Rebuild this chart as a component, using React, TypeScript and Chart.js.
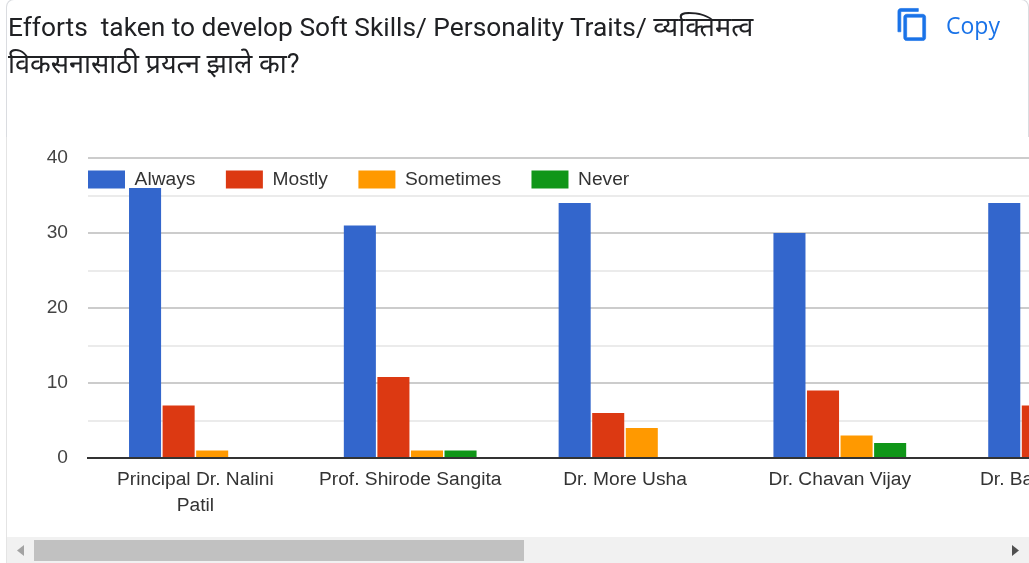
import React, { useEffect, useRef } from "react";
import { Chart, registerables } from "chart.js";

Chart.register(...registerables);

const NBSP = "\u00A0";
const titleLatin = "Efforts  taken to develop Soft Skills/ Personality Traits/ ";
const titleMarathiWord = "व्यक्तिमत्व";
const titleMarathiLine = "विकसनासाठी प्रयत्न झाले का?";
const categories: (string | string[])[] = [
  ["Principal Dr. Nalini", "Patil"],
  "Prof. Shirode Sangita",
  "Dr. More Usha",
  "Dr. Chavan Vijay",
  "Dr. Ba" + NBSP.repeat(18),
];
const always = [36, 31, 34, 30, 34];
const mostly = [7, 10.8, 6, 9, 7];
const sometimes = [1, 1, 4, 3, 0];
const never = [0, 1, 0, 2, 0];
const yTicks = [0, 10, 20, 30, 40];

const W = 1162;
const H = 535;
const PLOT_LEFT = 88;
const PLOT_TOP = 158;
const PLOT_BOTTOM = 458;
const LEGEND_PADDING = 30.5;
const TICK_FONT = { family: "'Liberation Sans', Arial", size: 19.2 };

const legendPlacer = {
  id: "legendPlacer",
  beforeLayout(chart: any) {
    const legend = chart.legend;
    if (legend && !legend.__patched) {
      legend.__patched = true;
      const originalFit = legend.fit;
      legend.fit = function () {
        originalFit.call(this);
        this.height = 0;
      };
    }
  },
  afterLayout(chart: any) {
    const legend = chart.legend;
    legend.left = 88 - LEGEND_PADDING;
    legend.right = W;
    legend.top = 170 - LEGEND_PADDING;
    legend.bottom = 210;
  },
};

export default function App() {
  const ref = useRef<HTMLCanvasElement>(null);
  useEffect(() => {
    const chart = new Chart(ref.current!, {
      type: "bar",
      data: {
        labels: categories as any,
        datasets: [
          { label: "Always", data: always, backgroundColor: "#3366cc" },
          { label: "Mostly", data: mostly, backgroundColor: "#dc3912" },
          { label: "Sometimes", data: sometimes, backgroundColor: "#ff9900" },
          { label: "Never", data: never, backgroundColor: "#109618" },
        ],
      },
      plugins: [legendPlacer],
      options: {
        responsive: false,
        animation: false,
        layout: { padding: { top: PLOT_TOP, left: 0, right: 0, bottom: 0 } },
        datasets: { bar: { categoryPercentage: 0.625, barPercentage: 0.955 } },
        plugins: {
          tooltip: { enabled: false },
          legend: {
            display: true,
            position: "top",
            align: "start",
            labels: {
              boxWidth: 37,
              boxHeight: 18,
              padding: LEGEND_PADDING,
              color: "#333333",
              font: TICK_FONT,
            },
          },
        },
        scales: {
          x: {
            grid: { display: false },
            border: { display: true, color: "#333333", width: 2, z: 1 },
            ticks: {
              autoSkip: false,
              maxRotation: 0,
              minRotation: 0,
              padding: 1,
              color: "#333333",
              font: { ...TICK_FONT, lineHeight: 26 / 19.2 },
            },
            afterFit(axis: any) {
              axis.height = H - PLOT_BOTTOM;
            },
          },
          y: {
            min: 0,
            max: 40,
            border: { display: false },
            grid: {
              drawTicks: false,
              lineWidth: 2,
              color: (ctx: any) => {
                const v = ctx.tick.value;
                if (v === 0) return "#333333";
                return yTicks.includes(v) ? "#cccccc" : "#ebebeb";
              },
            },
            ticks: {
              stepSize: 5,
              autoSkip: false,
              padding: 20,
              color: "#444444",
              font: TICK_FONT,
              callback: (v: any) => (yTicks.includes(Number(v)) ? String(v) : ""),
            },
            afterFit(axis: any) {
              axis.width = PLOT_LEFT;
            },
          },
        },
      },
    } as any);
    return () => chart.destroy();
  }, []);

  return (
    <div
      style={{
        position: "absolute",
        left: 0,
        top: 0,
        width: 1029,
        height: 563,
        overflow: "hidden",
        background: "#ffffff",
      }}
    >
      <canvas
        ref={ref}
        width={W}
        height={H}
        style={{ position: "absolute", left: 0, top: 0, width: W, height: H }}
      />
      {/* card outline */}
      <div
        style={{
          position: "absolute",
          left: 6,
          top: -1,
          width: 1023,
          height: 138,
          boxSizing: "border-box",
          borderLeft: "1px solid #dadce0",
          borderRight: "1px solid #dadce0",
          borderTop: "1px solid #dadce0",
          borderRadius: "8px 8px 0 0",
        }}
      />
      <div style={{ position: "absolute", left: 6, top: 137, width: 1, height: 426, background: "#e4e4e4" }} />
      {/* title */}
      <div
        style={{
          position: "absolute",
          left: 8,
          top: 9,
          fontFamily: "Roboto, 'Noto Sans', sans-serif",
          fontSize: 26.3,
          lineHeight: "37px",
          color: "#202124",
          whiteSpace: "pre",
        }}
      >
        <div style={{ height: 37 }}>
          {titleLatin}
          <span style={{ fontSize: 27 }}>{titleMarathiWord}</span>
        </div>
        <div style={{ height: 37, fontSize: 27 }}>{titleMarathiLine}</div>
      </div>
      {/* copy button */}
      <svg
        viewBox="0 0 24 24"
        width={35}
        height={35}
        style={{ position: "absolute", left: 895, top: 7 }}
      >
        <path
          fill="#1a73e8"
          stroke="#1a73e8"
          strokeWidth={0.45}
          d="M16 1H4c-1.1 0-2 .9-2 2v14h2V3h12V1zm3 4H8c-1.1 0-2 .9-2 2v14c0 1.1.9 2 2 2h11c1.1 0 2-.9 2-2V7c0-1.1-.9-2-2-2zm0 16H8V7h11v14z"
        />
      </svg>
      <div
        style={{
          position: "absolute",
          left: 946,
          top: 10,
          fontFamily: "'Open Sans', Roboto, sans-serif",
          fontSize: 23,
          lineHeight: "30px",
          color: "#1a73e8",
        }}
      >
        Copy
      </div>
      {/* horizontal scrollbar */}
      <div style={{ position: "absolute", left: 7, top: 537, width: 1022, height: 26, background: "#f1f1f1" }} />
      <div style={{ position: "absolute", left: 34, top: 540, width: 490, height: 21, background: "#c1c1c1" }} />
      <svg width={1029} height={563} style={{ position: "absolute", left: 0, top: 0, pointerEvents: "none" }}>
        <polygon points="24,545 24,556 17,550.5" fill="#a3a3a3" />
        <polygon points="1012,545 1012,556 1019,550.5" fill="#505050" />
      </svg>
    </div>
  );
}
